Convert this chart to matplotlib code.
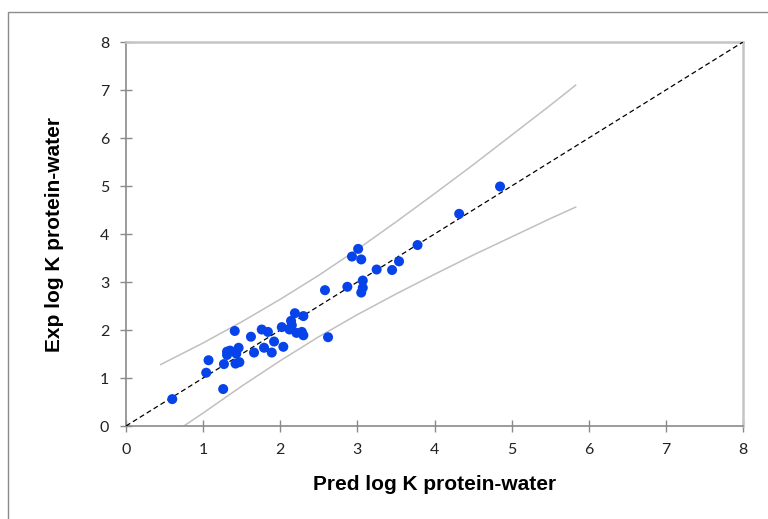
import numpy as np
import matplotlib
matplotlib.use('Agg')
import matplotlib.pyplot as plt
from matplotlib.patches import Rectangle

pred = [0.60, 1.04, 1.07, 1.26, 1.27, 1.31, 1.31, 1.35, 1.41, 1.46, 1.43, 1.42, 1.47,
        1.62, 1.66, 1.76, 1.79, 1.84, 1.89, 1.92, 2.02, 2.04, 2.12, 2.14, 2.15,
        2.19, 2.21, 2.28, 2.30, 2.30, 2.62,
        2.58, 2.87, 2.93, 3.01, 3.05, 3.07, 3.07, 3.05, 3.25, 3.45, 3.54, 3.78,
        4.32, 4.85]
exp = [0.56, 1.11, 1.37, 0.77, 1.29, 1.55, 1.48, 1.57, 1.98, 1.63, 1.51, 1.30, 1.33,
       1.86, 1.53, 2.01, 1.63, 1.96, 1.53, 1.76, 2.06, 1.65, 2.01, 2.19, 2.10,
       2.35, 1.94, 1.96, 2.29, 1.89, 1.85,
       2.83, 2.90, 3.53, 3.69, 3.47, 3.03, 2.88, 2.78, 3.26, 3.25, 3.43, 3.77,
       4.42, 4.99]

# grey prediction band lines
up_x = [0.45, 1.0, 1.5, 2.0, 2.5, 3.0, 3.5, 4.0, 4.5, 5.0, 5.5, 5.83]
up_y = [1.28, 1.73, 2.17, 2.64, 3.14, 3.68, 4.25, 4.84, 5.44, 6.06, 6.68, 7.10]
lo_x = [0.75, 1.0, 1.5, 2.0, 2.5, 3.0, 3.5, 4.0, 4.5, 5.0, 5.5, 5.83]
lo_y = [0.00, 0.27, 0.83, 1.36, 1.86, 2.32, 2.75, 3.16, 3.56, 3.94, 4.32, 4.56]

ticks = [0, 1, 2, 3, 4, 5, 6, 7, 8]

fig = plt.figure(figsize=(7.68, 5.19), dpi=100)
ax = fig.add_axes([126/768, 1-426/519, (743-126)/768, (426-42)/519])

# outer chart border
fig.patches.append(Rectangle((8/768, -0.1), 1.2, 1-12/519+0.1, transform=fig.transFigure,
                             fill=False, edgecolor='#8c8c8c', linewidth=1.0))

ax.plot(up_x, up_y, color='#c0c0c0', lw=1.1, zorder=2)
ax.plot(lo_x, lo_y, color='#c0c0c0', lw=1.1, zorder=2)
ax.plot([0, 8], [0, 8], color='black', lw=0.9, ls=(0, (4, 2.5)), zorder=3)
ax.scatter(pred, exp, s=52, color='#0643e8', edgecolors='none', zorder=4)

ax.set_xlim(0, 8)
ax.set_ylim(0, 8)
ax.set_xticks(ticks)
ax.set_yticks(ticks)

for s in ['left', 'bottom']:
    ax.spines[s].set_color('#8a8a8a')
    ax.spines[s].set_linewidth(1.2)
for s in ['top', 'right']:
    ax.spines[s].set_color('#c4c4c4')
    ax.spines[s].set_linewidth(1.8)

ax.tick_params(direction='inout', length=8, width=1.0, color='#8a8a8a',
               labelsize=11.5, labelcolor='#222222', pad=8)
for lab in ax.get_xticklabels() + ax.get_yticklabels():
    lab.set_family('Lato')

ax.set_xlabel('Pred log K protein-water', fontsize=15, fontweight='bold',
              family='Liberation Sans', labelpad=13)
ax.set_ylabel('Exp log K protein-water', fontsize=15, fontweight='bold',
              family='Liberation Sans', labelpad=26)

fig.savefig('out.png', dpi=100)
